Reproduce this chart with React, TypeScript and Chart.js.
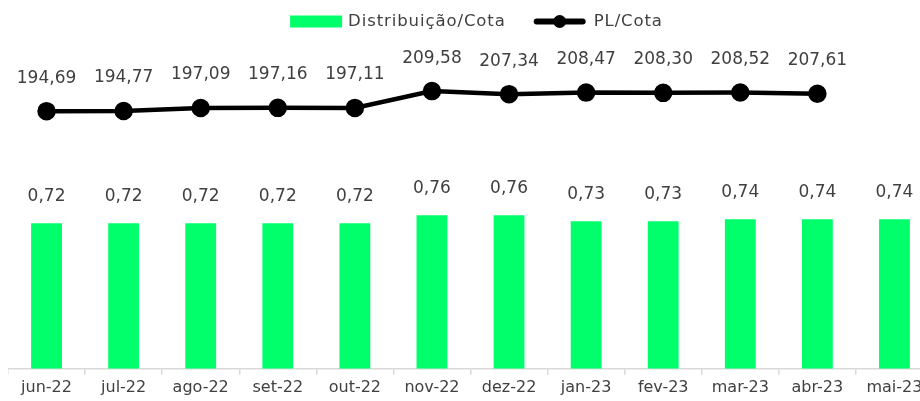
import { useEffect, useRef } from "react";
import { Chart, registerables } from "chart.js";

Chart.register(...registerables);

const categories = ["jun-22", "jul-22", "ago-22", "set-22", "out-22", "nov-22", "dez-22", "jan-23", "fev-23", "mar-23", "abr-23", "mai-23"];
const distribuicaoCota = [0.72, 0.72, 0.72, 0.72, 0.72, 0.76, 0.76, 0.73, 0.73, 0.74, 0.74, 0.74];
const plCota = [194.69, 194.77, 197.09, 197.16, 197.11, 209.58, 207.34, 208.47, 208.3, 208.52, 207.61, null];

const GREEN = "#00FF6A";
const TEXT = "#404040";
const FONT = '"DejaVu Sans", sans-serif';

const fmt = (v: number) => v.toFixed(2).replace(".", ",");

const legendPlugin = {
  id: "customLegend",
  afterDraw(chart: any) {
    const ctx = chart.ctx as any;
    ctx.save();
    ctx.font = `16.5px ${FONT}`;
    ctx.letterSpacing = "0.9px";
    const t1 = "Distribuição/Cota";
    const t2 = "PL/Cota";
    const w1 = ctx.measureText(t1).width;
    const w2 = ctx.measureText(t2).width;
    const boxW = 52, boxH = 12, gapTxt = 6, gapItems = 28, lineW = 52, gapTxt2 = 8;
    const total = boxW + gapTxt + w1 + gapItems + lineW + gapTxt2 + w2;
    let x = chart.width / 2 - total / 2;
    const y = 13.5;
    ctx.fillStyle = GREEN;
    ctx.fillRect(x, y - boxH / 2, boxW, boxH);
    x += boxW + gapTxt;
    ctx.fillStyle = TEXT;
    ctx.textBaseline = "middle";
    ctx.textAlign = "left";
    ctx.fillText(t1, x, y);
    x += w1 + gapItems;
    ctx.strokeStyle = "#000";
    ctx.lineWidth = 6;
    ctx.lineCap = "round";
    ctx.beginPath();
    ctx.moveTo(x + 3, y);
    ctx.lineTo(x + lineW - 3, y);
    ctx.stroke();
    ctx.fillStyle = "#000";
    ctx.beginPath();
    ctx.arc(x + lineW / 2, y, 6.5, 0, Math.PI * 2);
    ctx.fill();
    x += lineW + gapTxt2;
    ctx.fillStyle = TEXT;
    ctx.fillText(t2, x, y);
    ctx.restore();
  },
};

const dataLabelPlugin = {
  id: "valueLabels",
  afterDatasetsDraw(chart: any) {
    const ctx = chart.ctx as CanvasRenderingContext2D;
    ctx.save();
    ctx.font = `17px ${FONT}`;
    ctx.fillStyle = TEXT;
    ctx.textAlign = "center";
    ctx.textBaseline = "middle";
    chart.data.datasets.forEach((ds: any, di: number) => {
      const meta = chart.getDatasetMeta(di);
      meta.data.forEach((el: any, i: number) => {
        const v = ds.data[i];
        if (v === null || v === undefined) return;
        const off = ds.type === "line" ? 33 : 27;
        ctx.fillText(fmt(v), el.x, el.y - off);
      });
    });
    ctx.restore();
  },
};

export default function App() {
  const ref = useRef<HTMLCanvasElement | null>(null);
  useEffect(() => {
    if (!ref.current) return;
    const chart = new Chart(ref.current, {
      type: "bar",
      data: {
        labels: categories,
        datasets: [
          {
            type: "line",
            label: "PL/Cota",
            data: plCota,
            borderColor: "#000",
            backgroundColor: "#000",
            borderWidth: 4.5,
            pointRadius: 7,
            pointHoverRadius: 7,
            pointBackgroundColor: "#000",
            pointBorderColor: "#000",
            yAxisID: "y1",
            order: 0,
            tension: 0,
          } as any,
          {
            type: "bar",
            label: "Distribuição/Cota",
            data: distribuicaoCota,
            backgroundColor: GREEN,
            borderWidth: 0,
            categoryPercentage: 1,
            barPercentage: 0.4,
            yAxisID: "y",
            order: 1,
          } as any,
        ],
      },
      options: {
        animation: false,
        responsive: true,
        maintainAspectRatio: false,
        layout: { autoPadding: false, padding: { top: 40, left: 0, right: 12, bottom: 1 } },
        plugins: {
          legend: { display: false },
          tooltip: { enabled: false },
        },
        scales: {
          x: {
            offset: true,
            grid: {
              display: true,
              drawOnChartArea: false,
              offset: true,
              color: "#d9d9d9",
              tickLength: 6,
              lineWidth: 1.5,
            },
            border: { display: true, color: "#d9d9d9", width: 1.5 },
            ticks: { color: TEXT, font: { family: FONT, size: 16 }, padding: 3, maxRotation: 0, autoSkip: false },
          },
          y: { display: false, min: 0, max: 1.587 },
          y1: { display: false, min: 3.34, max: 241.6, position: "right" },
        },
      },
      plugins: [legendPlugin, dataLabelPlugin],
    });
    return () => chart.destroy();
  }, []);

  return (
    <div style={{ position: "fixed", left: 0, top: 0, width: 920, height: 401, overflow: "hidden", background: "#fff" }}>
      <div style={{ position: "absolute", left: 8, top: 8, width: 937, height: 393 }}>
        <canvas ref={ref} />
      </div>
    </div>
  );
}
